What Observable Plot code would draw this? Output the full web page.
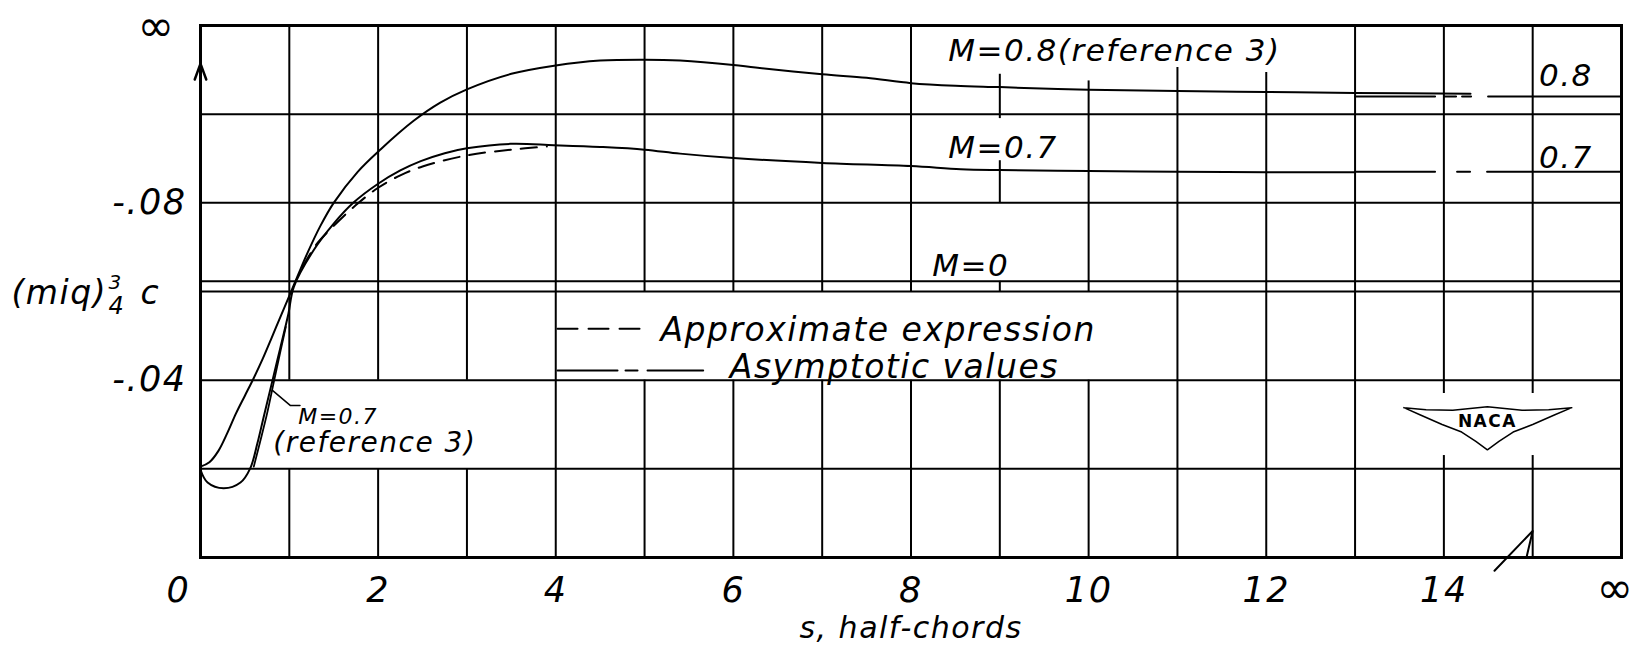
<!DOCTYPE html>
<html><head><meta charset="utf-8">
<script src="https://cdn.jsdelivr.net/npm/d3@7"></script>
<script src="https://cdn.jsdelivr.net/npm/@observablehq/plot@0.6"></script>
<style>
html,body{margin:0;padding:0;background:#fff;}
#chart svg{display:block;}
#chart svg text{letter-spacing:1.5px;}
</style></head><body><div id="chart"></div>
<script>
// ---- data ----
// M = 0.8 (reference 3)
const sM08 = [0, 0.1, 0.2, 0.3, 0.4, 0.5, 0.6, 0.7, 0.8, 0.9, 1.0, 1.1, 1.2, 1.35, 1.5, 1.77, 2.03, 2.4, 2.7, 3.0, 3.5, 4.0, 4.5, 5.0, 5.4, 6.0, 6.25, 7.0, 7.5, 8.0, 8.5, 9.0, 10.0, 11.0, 12.0, 13.0, 14.3];
const vM08 = [-0.0205, -0.0215, -0.024, -0.028, -0.0325, -0.0365, -0.0405, -0.0448, -0.0495, -0.0543, -0.059, -0.0638, -0.0685, -0.0748, -0.0800, -0.0870, -0.0921, -0.0985, -0.1026, -0.1056, -0.1091, -0.1110, -0.1121, -0.1123, -0.1121, -0.1111, -0.1105, -0.1090, -0.1082, -0.1070, -0.1064, -0.1061, -0.1055, -0.1052, -0.1050, -0.1048, -0.1046];
// M = 0.7 (present analysis)
const sM07 = [0, 0.08, 0.26, 0.45, 0.56, 0.64, 0.71, 0.81, 0.9, 0.99, 1.05, 1.27, 1.5, 1.72, 2.0, 2.25, 2.48, 2.75, 3.0, 3.49, 3.98, 4.5, 5.0, 5.4, 6.0, 7.0, 8.0, 8.56, 9.0, 10.0, 11.0, 12.0, 13.0];
const vM07 = [-0.0198, -0.0169, -0.0156, -0.0169, -0.0201, -0.0257, -0.0316, -0.0399, -0.0474, -0.055, -0.061, -0.0692, -0.0753, -0.0800, -0.0843, -0.0873, -0.0894, -0.0912, -0.0923, -0.0933, -0.0930, -0.0926, -0.0920, -0.0911, -0.0901, -0.0890, -0.0883, -0.0876, -0.0874, -0.0872, -0.0870, -0.0869, -0.0869];
// M = 0.7 (reference 3), short early-time curve
const sRef07 = [0.6, 0.67, 0.75, 0.83, 0.9, 0.96];
const vRef07 = [-0.0205, -0.026, -0.0325, -0.040, -0.0465, -0.052];
// Approximate expression (M = 0.7)
const sApprox = [1.15, 1.3, 1.5, 1.75, 2.0, 2.25, 2.5, 3.0, 3.5, 3.9];
const vApprox = [-0.0655, -0.0705, -0.0748, -0.0795, -0.0834, -0.0862, -0.0882, -0.0907, -0.0920, -0.0927];
// Asymptotic values
const asymM0 = -0.0623;
const asymM07 = -0.0870;
const asymM08 = -0.1040;
const asymSpan = [13, 16];

// axes
const sTicks = [0, 2, 4, 6, 8, 10, 12, 14];
const sTickLabels = ["0", "2", "4", "6", "8", "10", "12", "14"];
const sInf = 16;
const infLabel = "\u221E";
const vTicks = [-0.08, -0.04];
const vTickLabels = ["-.08", "-.04"];
const vTop = -0.12;
const hGrid = [-0.02, -0.04, -0.06, -0.08, -0.10];
const vGridS = [1, 2, 3, 4, 5, 6, 7, 8, 9, 10, 11, 12, 13, 14, 15];
// breaks in the vertical rulings (around lettering and the emblem)
const gridGaps = [
  {s: 1, from: -0.04, to: -0.02}, {s: 2, from: -0.04, to: -0.02}, {s: 3, from: -0.04, to: -0.02},
  {s: 5, from: -0.06, to: -0.04}, {s: 6, from: -0.06, to: -0.04}, {s: 7, from: -0.06, to: -0.04}, {s: 8, from: -0.06, to: -0.04},
  {s: 9, from: -0.06, to: -0.04}, {s: 9, from: -0.08, to: -0.0623}, {s: 9, from: -0.099, to: -0.0895}, {s: 9, from: -0.12, to: -0.109},
  {s: 10, from: -0.06, to: -0.04}, {s: 10, from: -0.12, to: -0.1075},
  {s: 11, from: -0.12, to: -0.1105}, {s: 12, from: -0.12, to: -0.1094},
  {s: 14, from: -0.037, to: -0.023}, {s: 15, from: -0.037, to: -0.023}
];
// labels
const curveLabels = [
  {s: 8.42, v: -0.1121, text: "M=0.8(reference 3)"},
  {s: 8.42, v: -0.0902, text: "M=0.7"},
  {s: 8.24, v: -0.0634, text: "M=0"},
  {s: 15.07, v: -0.1064, text: "0.8"},
  {s: 15.07, v: -0.0879, text: "0.7"}
];
const refLabelM = {s: 1.1, v: -0.0302, text: "M=0.7"};
const refLabelR = {s: 0.82, v: -0.0238, text: "(reference 3)"};
const leader = [[0.81, -0.0377], [1.01, -0.0343], [1.12, -0.0343]];
const legendApprox = {s: [4.02, 5.03], v: -0.0516, label: "Approximate expression", ls: 5.18, lv: -0.0489};
const legendAsym = {s: [4.02, 5.66], v: -0.0422, label: "Asymptotic values", ls: 5.96, lv: -0.0404};
const xTitle = "s, half-chords";
const yTitle = ["(miq)", "3", "4", "c"];
const arrowUp = [{x1: 0, y1: -0.1000, x2: 0, y2: -0.1114}];
const breakMark = [[14.57, 0.003], [15.0, -0.006], [14.93, 0.0]];
const emblem = [[13.55, -0.0338], [13.8, -0.0333], [14.1, -0.0332], [14.49, -0.0340], [14.88, -0.0332], [15.18, -0.0333], [15.44, -0.0338],
  [15.25, -0.0322], [15.0, -0.0300], [14.78, -0.0283], [14.62, -0.0262], [14.49, -0.0243], [14.36, -0.0262], [14.2, -0.0283], [13.98, -0.0300], [13.73, -0.0322], [13.55, -0.0338]];
const emblemText = {s: 14.49, v: -0.0307, text: "NACA"};

// ---- build tables ----
const rows = (S, V) => S.map((s, i) => ({s, v: V[i]}));
const vSegments = [];
for (const s of vGridS) {
  const gaps = gridGaps.filter(g => g.s === s).sort((a, b) => b.to - a.to);
  let cur = 0; // from bottom (0) upward to -0.12
  for (const g of gaps) {
    if (g.to < cur) vSegments.push({s, y1: cur, y2: g.to});
    cur = g.from;
  }
  if (cur > vTop) vSegments.push({s, y1: cur, y2: vTop});
}

const font = "DejaVu Sans";
const txt = {fontFamily: font, fontStyle: "italic", fill: "black"};

const chart = Plot.plot({
  width: 1642, height: 663,
  marginLeft: 200, marginRight: 21, marginTop: 25, marginBottom: 106,
  x: {domain: [0, 16], axis: null},
  y: {domain: [0, -0.12], axis: null},
  style: {background: "white", color: "black", fontFamily: font},
  marks: [
    Plot.ruleY(hGrid, {y: d => d, x1: 0, x2: 16, stroke: "black", strokeWidth: 2}),
    Plot.ruleX(vSegments, {x: "s", y1: "y1", y2: "y2", stroke: "black", strokeWidth: 2}),
    Plot.ruleY([asymM0], {y: d => d, x1: 0, x2: 16, stroke: "black", strokeWidth: 2}),
    Plot.frame({stroke: "black", strokeWidth: 3}),
    // asymptotes at the right
    Plot.line(asymSpan.map(s => ({s, v: asymM08})), {x: "s", y: "v", stroke: "black", strokeWidth: 2, strokeDasharray: "80,9,12,6,9,17,300"}),
    Plot.line(asymSpan.map(s => ({s, v: asymM07})), {x: "s", y: "v", stroke: "black", strokeWidth: 2, strokeDasharray: "80,22,13,17,300"}),
    // curves
    Plot.line(rows(sM08, vM08), {x: "s", y: "v", curve: "catmull-rom", stroke: "black", strokeWidth: 2}),
    Plot.line(rows(sM07, vM07), {x: "s", y: "v", curve: "catmull-rom", stroke: "black", strokeWidth: 2}),
    Plot.line(rows(sRef07, vRef07), {x: "s", y: "v", curve: "catmull-rom", stroke: "black", strokeWidth: 1.8}),
    Plot.line(rows(sApprox, vApprox), {x: "s", y: "v", curve: "catmull-rom", stroke: "black", strokeWidth: 2, strokeDasharray: "16,10"}),
    // leader
    Plot.line(leader.map(([s, v]) => ({s, v})), {x: "s", y: "v", stroke: "black", strokeWidth: 1.5}),
    // legend
    Plot.line(legendApprox.s.map(s => ({s, v: legendApprox.v})), {x: "s", y: "v", stroke: "black", strokeWidth: 2, strokeDasharray: "20,11"}),
    Plot.line(legendAsym.s.map(s => ({s, v: legendAsym.v})), {x: "s", y: "v", stroke: "black", strokeWidth: 2, strokeDasharray: "60,8,12,10,60"}),
    Plot.text([legendApprox], {x: "ls", y: "lv", text: "label", textAnchor: "start", lineAnchor: "bottom", fontSize: 33, ...txt}),
    Plot.text([legendAsym], {x: "ls", y: "lv", text: "label", textAnchor: "start", lineAnchor: "bottom", fontSize: 33, ...txt}),
    // curve labels
    Plot.text(curveLabels, {x: "s", y: "v", text: "text", textAnchor: "start", lineAnchor: "bottom", fontSize: 31, ...txt}),
    Plot.text([refLabelM], {x: "s", y: "v", text: "text", textAnchor: "start", lineAnchor: "bottom", fontSize: 22, ...txt}),
    Plot.text([refLabelR], {x: "s", y: "v", text: "text", textAnchor: "start", lineAnchor: "bottom", fontSize: 28, ...txt}),
    // arrow and axis break
    Plot.arrow(arrowUp, {x1: "x1", y1: "y1", x2: "x2", y2: "y2", headAngle: 40, headLength: 29, stroke: "black", strokeWidth: 2.5}),
    Plot.line(breakMark.map(([s, v]) => ({s, v})), {x: "s", y: "v", stroke: "black", strokeWidth: 2}),
    // emblem
    Plot.line(emblem.map(([s, v]) => ({s, v})), {x: "s", y: "v", stroke: "black", strokeWidth: 1.5}),
    Plot.text([emblemText], {x: "s", y: "v", text: "text", fontSize: 17, fontWeight: "bold", fontFamily: font, fill: "black"}),
    // tick labels
    Plot.text(sTicks.slice(1), {x: d => d, y: 0, text: (d, i) => sTickLabels[i + 1], dy: 33, fontSize: 35, ...txt}),
    Plot.text([sTicks[0]], {x: d => d, y: 0, text: () => sTickLabels[0], dx: -22, dy: 33, fontSize: 35, ...txt}),
    Plot.text([sInf], {x: d => d, y: 0, text: () => infLabel, dx: -6, dy: 31, fontSize: 44, ...txt}),
    Plot.text(vTicks, {x: 0, y: d => d, text: (d, i) => vTickLabels[i], textAnchor: "end", dx: -14, fontSize: 35, ...txt}),
    Plot.text([vTop], {x: 0, y: d => d, text: () => infLabel, dx: -44, dy: 1, fontSize: 44, ...txt}),
    // axis titles
    Plot.text([xTitle], {frameAnchor: "bottom", text: d => d, dy: 80, fontSize: 30, ...txt}),
    Plot.text([yTitle[0]], {frameAnchor: "left", text: d => d, textAnchor: "start", dx: -189, dy: 2, fontSize: 33, ...txt}),
    Plot.text([yTitle[1]], {frameAnchor: "left", text: d => d, dx: -92, dy: -9, fontSize: 20, ...txt}),
    Plot.text([yTitle[2]], {frameAnchor: "left", text: d => d, dx: -92, dy: 15, fontSize: 24, ...txt}),
    Plot.text([yTitle[3]], {frameAnchor: "left", text: d => d, dx: -60, dy: 2, fontSize: 33, ...txt})
  ]
});
document.getElementById("chart").appendChild(chart);
</script>
</body></html>
